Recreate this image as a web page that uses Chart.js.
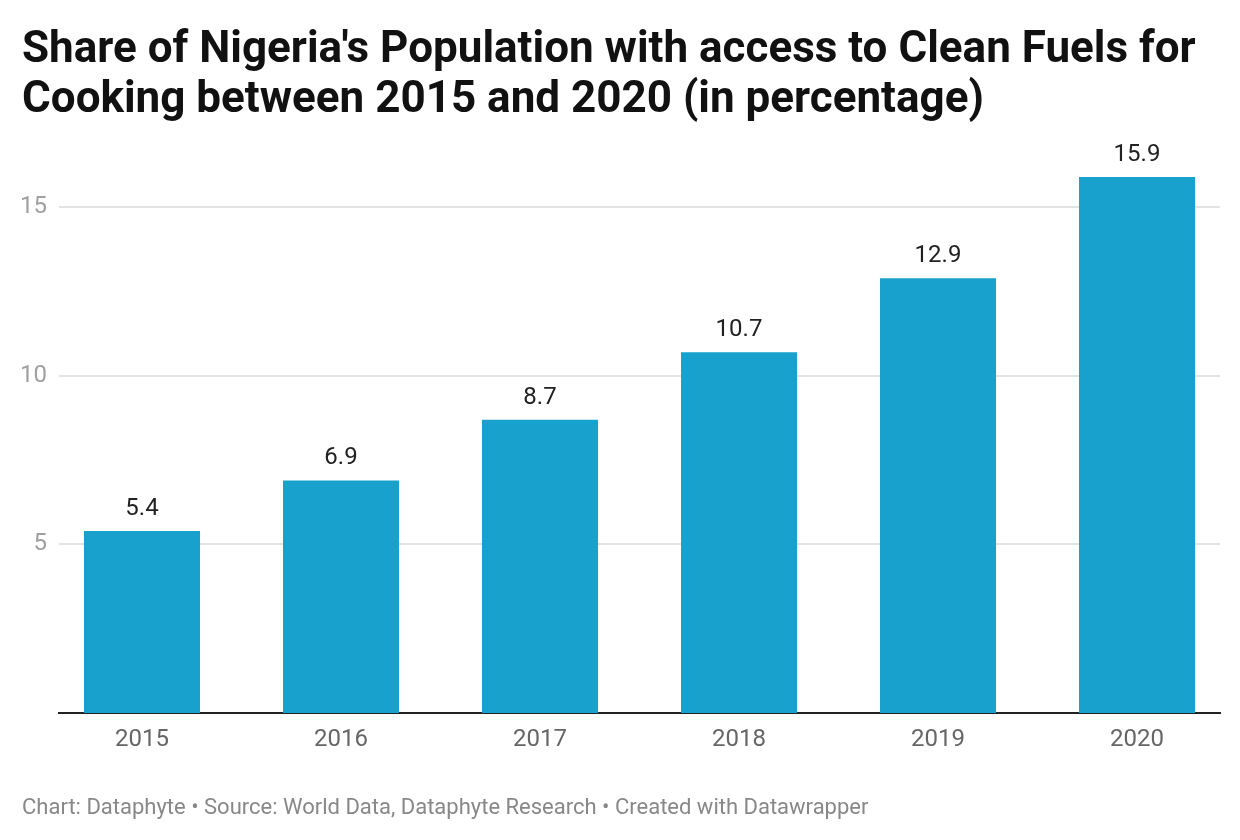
<!DOCTYPE html>
<html>
<head>
<meta charset="utf-8">
<script src="https://cdn.jsdelivr.net/npm/chart.js@4"></script>
<style>
  body { margin:0; background:#fff; }
  #wrap { position:relative; width:1240px; height:840px; font-family:Roboto, "Noto Sans", sans-serif; }
  #chart { position:absolute; left:0; top:0; }
  #title { position:absolute; left:22px; top:22px; font-size:44px; line-height:50px; font-weight:700; color:#111; }
  #footer { position:absolute; left:22px; top:796px; font-size:22px; line-height:22px; color:#888; white-space:nowrap; }
</style>
</head>
<body>
<div id="wrap">
  <canvas id="chart" width="1240" height="840"></canvas>
  <div id="title">Share of Nigeria's Population with access to Clean Fuels for<br>Cooking between 2015 and 2020 (in percentage)</div>
  <div id="footer">Chart: Dataphyte • Source: World Data, Dataphyte Research • Created with Datawrapper</div>
</div>
<script>
// ===== data =====
const years = [2015, 2016, 2017, 2018, 2019, 2020];
const shares = [5.4, 6.9, 8.7, 10.7, 12.9, 15.9];
const yTicks = [5, 10, 15];

// value labels above bars
const valueLabels = {
  id: "valueLabels",
  afterDatasetsDraw(chart) {
    const ctx = chart.ctx;
    const meta = chart.getDatasetMeta(0);
    ctx.save();
    ctx.font = "24px Roboto";
    ctx.fillStyle = "#222";
    ctx.textAlign = "center";
    ctx.textBaseline = "alphabetic";
    meta.data.forEach((bar, i) => {
      ctx.fillText(shares[i].toFixed(1), bar.x, bar.y - 16);
    });
    ctx.restore();
  }
};

new Chart(document.getElementById("chart"), {
  type: "bar",
  data: {
    datasets: [{
      data: years.map((y, i) => ({ x: y, y: shares[i] })),
      backgroundColor: "#18a1cd",
      barPercentage: 0.583,
      categoryPercentage: 1
    }]
  },
  options: {
    responsive: false,
    animation: false,
    devicePixelRatio: 1,
    layout: { padding: { top: 140, right: 20, bottom: 77, left: 0 } },
    plugins: { legend: { display: false }, tooltip: { enabled: false } },
    scales: {
      x: {
        type: "linear",
        offset: false,
        min: 2014.583,
        max: 2020.417,
        afterBuildTicks: s => { s.ticks = years.map(v => ({ value: v })); },
        afterFit: s => { s.height = 50; },
        grid: { display: false, drawTicks: false, offset: false },
        border: { display: true, color: "#222", width: 2 },
        ticks: {
          padding: 13,
          color: "#666",
          font: { family: "Roboto", size: 24 },
          callback: v => String(v)
        }
      },
      y: {
        min: 0,
        max: 17,
        afterBuildTicks: s => { s.ticks = yTicks.map(v => ({ value: v })); },
        afterFit: s => { s.width = 59; },
        grid: { color: "#e3e3e3", lineWidth: 2, drawTicks: false },
        border: { display: false },
        ticks: {
          padding: 12,
          color: "#a0a0a0",
          font: { family: "Roboto", size: 24 }
        }
      }
    }
  },
  plugins: [valueLabels]
});
</script>
</body>
</html>
